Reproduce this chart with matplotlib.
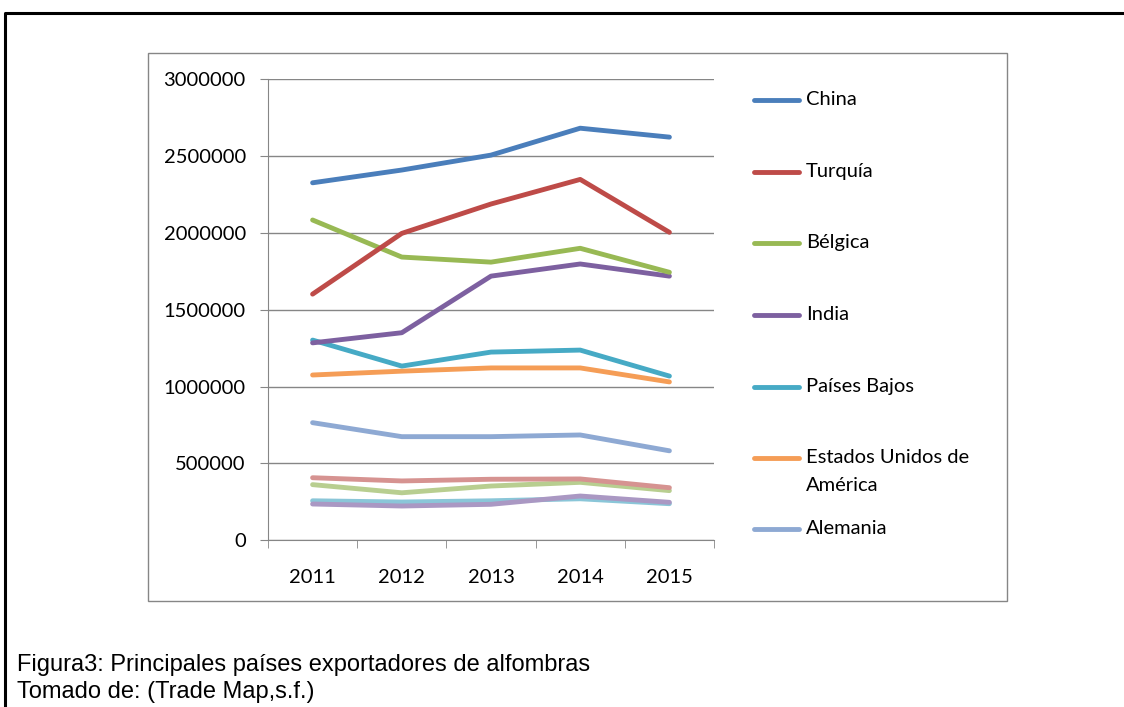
import matplotlib.pyplot as plt
from matplotlib.lines import Line2D
from matplotlib.patches import Rectangle
import numpy as np

years = ['2011', '2012', '2013', '2014', '2015']

# exports per country
china = [2325000, 2408000, 2505000, 2680000, 2622000]
turquia = [1601000, 1996000, 2187000, 2347000, 2003000]
belgica = [2083000, 1842000, 1809000, 1899000, 1743000]
india = [1284000, 1350000, 1718000, 1797000, 1718000]
paises_bajos = [1302000, 1133000, 1224000, 1237000, 1068000]
eeuu = [1075000, 1100000, 1121000, 1121000, 1030000]
alemania = [765000, 674000, 674000, 685000, 582000]
serie8 = [407000, 386000, 397000, 399000, 342000]
serie9 = [362000, 309000, 353000, 377000, 323000]
serie10 = [236000, 223000, 234000, 288000, 247000]
serie11 = [257000, 249000, 257000, 270000, 238000]

names = ['China', 'Turquía', 'Bélgica', 'India', 'Países Bajos',
         'Estados Unidos de\nAmérica', 'Alemania']
series = [china, turquia, belgica, india, paises_bajos, eeuu, alemania,
          serie8, serie9, serie10, serie11]
colors = ['#4A7EBB', '#BE4B48', '#98B954', '#7D60A0', '#46AAC5', '#F59D56',
          '#8EA9D3', '#D69391', '#B8CE90', '#AA98C3', '#8AC6D8']

W, H = 1124, 707
fig = plt.figure(figsize=(W / 100, H / 100), dpi=100)
font = 'Lato'
fs = 14.5
grey = '#868686'

# outer black frame and chart border
fig.add_artist(Line2D([5 / W, 5 / W, 1.0], [0, 1 - 13 / H, 1 - 13 / H],
                      transform=fig.transFigure, color='black', lw=2.2))
fig.add_artist(Rectangle((148 / W, 1 - 601 / H), (1007 - 148) / W, (601 - 53) / H,
                         transform=fig.transFigure, fill=False, ec=grey, lw=1.0))

ax = fig.add_axes([268 / W, 1 - 540.3 / H, (714 - 268) / W, (540.3 - 79) / H])
x = np.arange(len(years))
for vals, c in zip(series[::-1], colors[::-1]):
    ax.plot(x, vals, color=c, lw=3.5, solid_capstyle='round', solid_joinstyle='round')

ax.set_xlim(-0.5, 4.5)
ax.set_ylim(0, 3000000)
ax.set_yticks(np.arange(0, 3000001, 500000))
ax.set_yticklabels([str(v) for v in range(0, 3000001, 500000)], fontfamily=font, fontsize=fs)
ax.set_xticks(x)
ax.set_xticklabels(years, fontfamily=font, fontsize=fs)
ax.set_xticks(np.arange(-0.5, 5, 1), minor=True)
ax.tick_params(axis='x', which='major', length=0, pad=21)
ax.tick_params(axis='x', which='minor', length=6, color=grey, direction='out')
ax.tick_params(axis='y', length=6, color=grey, pad=10)
ax.grid(axis='y', color=grey, lw=1.0)
ax.set_axisbelow(True)
for s in ['top', 'right']:
    ax.spines[s].set_visible(False)
for s in ['left', 'bottom']:
    ax.spines[s].set_color(grey)
ax.set_zorder(1)

# legend drawn by hand so the wrapped label lines up like the original
leg_y = [100, 172, 243, 315, 387, 458, 529]
for name, c, yy in zip(names, colors, leg_y):
    fig.add_artist(Line2D([754 / W, 799 / W], [1 - yy / H, 1 - yy / H],
                          transform=fig.transFigure, color=c, lw=3.5,
                          solid_capstyle='round'))
    fig.text(806 / W, 1 - (yy - 9) / H, name, fontfamily=font, fontsize=fs,
             va='top', ha='left', linespacing=1.8)

fig.text(17 / W, 1 - 671 / H, 'Figura3: Principales países exportadores de alfombras',
         fontfamily='Liberation Sans', fontsize=17, va='baseline')
fig.text(17 / W, 1 - 698 / H, 'Tomado de: (Trade Map,s.f.)',
         fontfamily='Liberation Sans', fontsize=17, va='baseline')

fig.savefig('out.png', dpi=100)
